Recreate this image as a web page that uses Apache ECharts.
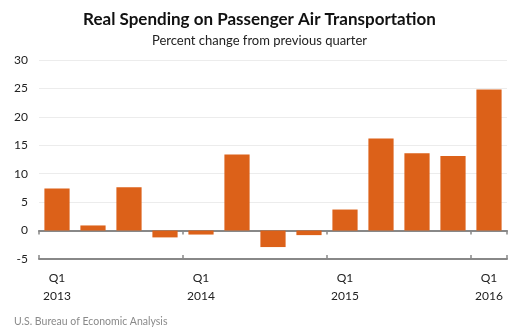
<!DOCTYPE html>
<html><head><meta charset="utf-8">
<script src="https://cdn.jsdelivr.net/npm/echarts@6/dist/echarts.min.js"></script>
<style>html,body{margin:0;padding:0;background:#fff}#c{width:519px;height:327px}</style>
</head><body><div id="c"></div>
<script>
var categories = ['Q1\n2013','Q2 2013','Q3 2013','Q4 2013','Q1\n2014','Q2 2014','Q3 2014','Q4 2014','Q1\n2015','Q2 2015','Q3 2015','Q4 2015','Q1\n2016'];
var values = [7.4, 0.9, 7.6, -1.2, -0.7, 13.4, -2.9, -0.8, 3.7, 16.2, 13.6, 13.1, 24.8];
var yTicks = {min: -5, max: 30, interval: 5};

function every4(i){ return i % 4 === 0; }
var chart = echarts.init(document.getElementById('c'));
chart.setOption({
  animation: false,
  title: [{
    text: 'Real Spending on Passenger Air Transportation',
    left: 'center', top: 6,
    textStyle: {fontFamily: 'Lato', fontWeight: 'bold', fontSize: 17, color: '#111'}
  }, {
    text: 'Percent change from previous quarter',
    left: 'center', top: 29,
    textStyle: {fontFamily: 'Lato', fontWeight: 'normal', fontSize: 13, color: '#222'}
  }, {
    text: 'U.S. Bureau of Economic Analysis',
    left: 9, top: 311,
    textStyle: {fontFamily: 'Lato', fontWeight: 'normal', fontSize: 10.5, color: '#8a8a8a'}
  }],
  grid: {left: 39, right: 12, top: 60, bottom: 68, containLabel: false},
  xAxis: [{
    type: 'category', data: categories,
    axisLine: {onZero: true, lineStyle: {color: '#888', width: 2}},
    axisTick: {show: true, interval: every4, length: 4, lineStyle: {color: '#888', width: 1.5}},
    axisLabel: {interval: every4, fontFamily: 'Lato', fontSize: 12, color: '#222', lineHeight: 18, margin: 10},
    position: 'bottom'
  }, {
    type: 'category', data: categories,
    axisLine: {onZero: true, lineStyle: {color: '#888', width: 2}},
    axisTick: {show: true, inside: true, interval: every4, length: 4, lineStyle: {color: '#888', width: 1.5}},
    axisLabel: {show: false},
    position: 'bottom'
  }],
  yAxis: {
    type: 'value', min: yTicks.min, max: yTicks.max, interval: yTicks.interval,
    axisLine: {show: false}, axisTick: {show: false},
    axisLabel: {fontFamily: 'Lato', fontSize: 12, color: '#222', margin: 11},
    splitLine: {lineStyle: {color: '#ececec', width: 1}}
  },
  series: [{
    type: 'bar', data: values, barCategoryGap: '30%', xAxisIndex: 0,
    itemStyle: {color: '#DC6119'}
  }]
});
</script></body></html>
